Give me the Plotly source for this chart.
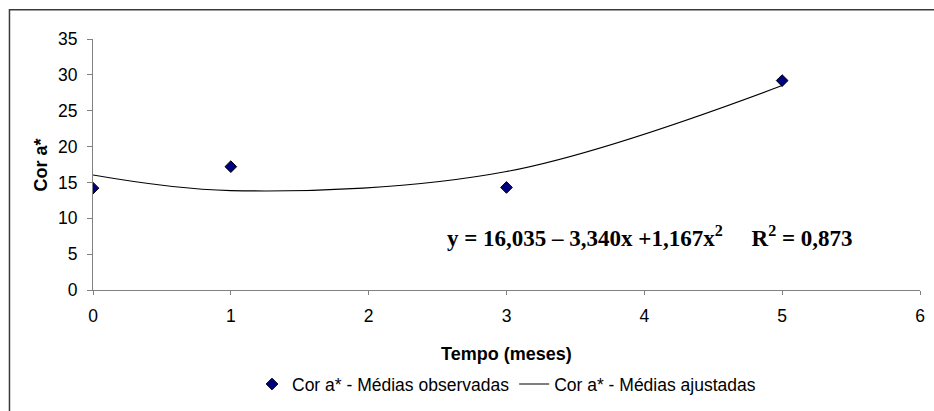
import plotly.graph_objects as go

# Observed means
obs_x = [0, 1, 3, 5]
obs_y = [14.2, 17.2, 14.3, 29.2]

# Fitted (adjusted) means, drawn as a smoothed line
fit_x = [0, 1, 3, 5]
fit_y = [16.04, 13.86, 16.52, 28.51]

x_ticks = [0, 1, 2, 3, 4, 5, 6]
y_ticks = [0, 5, 10, 15, 20, 25, 30, 35]

equation = "y = 16,035 – 3,340x +1,167x<sup>2</sup>     R<sup>2</sup> = 0,873"

fig = go.Figure()
fig.add_trace(go.Scatter(
    x=obs_x, y=obs_y, mode="markers",
    name="Cor a* - Médias observadas",
    marker=dict(symbol="diamond", size=9, color="#000080",
                line=dict(color="#000000", width=1)),
))
fig.add_trace(go.Scatter(
    x=fit_x, y=fit_y, mode="lines",
    name="Cor a* - Médias ajustadas",
    line=dict(color="#000000", width=1.2, shape="spline", smoothing=1),
))

SANS = "Liberation Sans, Arial, sans-serif"
tick_font = dict(family=SANS, size=17.5, color="#000000")

fig.update_layout(
    width=934, height=411,
    margin=dict(l=93, r=9, t=39, b=121),
    paper_bgcolor="white", plot_bgcolor="white",
    showlegend=True,
    legend=dict(orientation="h", x=0.5, xanchor="center", y=-0.375, yanchor="middle",
                font=dict(family=SANS, size=17.5, color="#000000"),
                itemwidth=30, tracegroupgap=0, bgcolor="rgba(0,0,0,0)"),
    xaxis=dict(range=[0, 6], tickvals=x_ticks, ticktext=[str(v) for v in x_ticks],
               showline=True, linecolor="#808080", linewidth=1.2,
               ticks="outside", ticklen=4, tickcolor="#808080",
               ticklabelstandoff=6,
               showgrid=False, zeroline=False, tickfont=tick_font),
    yaxis=dict(range=[0, 35], tickvals=y_ticks, ticktext=[str(v) for v in y_ticks],
               showline=True, linecolor="#808080", linewidth=1.2,
               ticks="outside", ticklen=5, tickcolor="#808080",
               ticklabelstandoff=6,
               showgrid=False, zeroline=False, tickfont=tick_font),
    shapes=[dict(type="rect", xref="paper", yref="paper",
                 x0=-0.101, x1=1.3, y0=-0.8, y1=1.117,
                 line=dict(color="#3a3a3a", width=1.5), fillcolor="rgba(0,0,0,0)")],
    annotations=[
        dict(text="<b>" + equation + "</b>", x=4.04, y=7.4, xref="x", yref="y",
             showarrow=False, xanchor="center", yanchor="middle",
             font=dict(family="Liberation Serif, Times New Roman, serif", size=23, color="#000000")),
        dict(text="<b>Tempo (meses)</b>", x=0.5, y=-0.255, xref="paper", yref="paper",
             showarrow=False, xanchor="center", yanchor="middle",
             font=dict(family=SANS, size=18, color="#000000")),
        dict(text="<b>Cor a*</b>", x=-0.063, y=0.5, xref="paper", yref="paper",
             showarrow=False, xanchor="center", yanchor="middle", textangle=-90,
             font=dict(family=SANS, size=18, color="#000000")),
    ],
)

fig.write_html("out.html")
